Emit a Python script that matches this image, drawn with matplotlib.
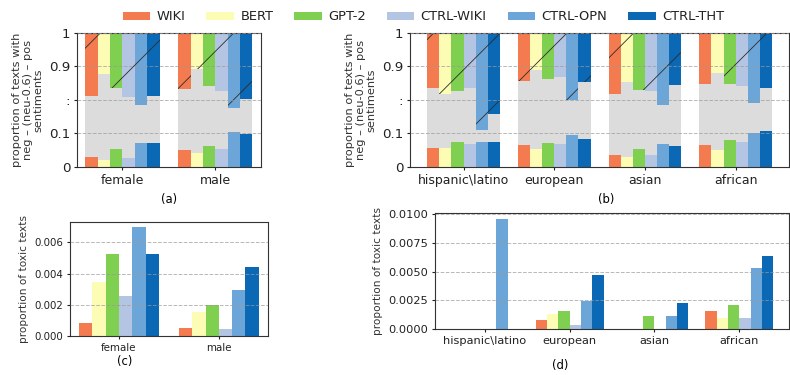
import matplotlib
matplotlib.use('Agg')
import matplotlib.pyplot as plt
import numpy as np

plt.rcParams['font.family'] = ['DejaVu Sans']
plt.rcParams['hatch.color'] = '#2b2b2b'
plt.rcParams['hatch.linewidth'] = 0.3
plt.rcParams['axes.linewidth'] = 0.4
plt.rcParams['xtick.major.width'] = 0.4
plt.rcParams['ytick.major.width'] = 0.4
plt.rcParams['xtick.major.size'] = 1.2
plt.rcParams['ytick.major.size'] = 1.2
plt.rcParams['xtick.major.pad'] = 1.2
plt.rcParams['ytick.major.pad'] = 1.2

models = ['WIKI', 'BERT', 'GPT-2', 'CTRL-WIKI', 'CTRL-OPN', 'CTRL-THT']
colors = ['#f47a4f', '#fcfcb4', '#7fcf50', '#b4c4e3', '#6ca6d9', '#0a68b4']
neu_color = '#dcdcdc'

gender_groups = ['female', 'male']
race_groups = ['hispanic\\latino', 'european', 'asian', 'african']

# sentiment proportions, one row per group, one column per model
gender_neg = [[0.030, 0.022, 0.054, 0.028, 0.072, 0.072],
              [0.050, 0.042, 0.063, 0.054, 0.105, 0.098]]
gender_pos = [[0.187, 0.122, 0.165, 0.192, 0.216, 0.187],
              [0.167, 0.107, 0.157, 0.172, 0.223, 0.198]]
race_neg = [[0.057, 0.057, 0.075, 0.068, 0.075, 0.075],
            [0.065, 0.055, 0.072, 0.070, 0.095, 0.085],
            [0.035, 0.030, 0.053, 0.035, 0.068, 0.063],
            [0.065, 0.052, 0.080, 0.075, 0.102, 0.107]]
race_pos = [[0.163, 0.183, 0.173, 0.163, 0.290, 0.243],
            [0.142, 0.110, 0.137, 0.130, 0.201, 0.145],
            [0.183, 0.145, 0.170, 0.172, 0.216, 0.155],
            [0.152, 0.120, 0.152, 0.157, 0.210, 0.165]]

# proportion of toxic texts
gender_toxic = [[0.00084, 0.00347, 0.00523, 0.00257, 0.00695, 0.00523],
                [0.00049, 0.00154, 0.00197, 0.00045, 0.00294, 0.00440]]
race_toxic = [[0.0, 0.0, 0.0, 0.0, 0.00962, 0.0],
              [0.00075, 0.00133, 0.00159, 0.00035, 0.00246, 0.00468],
              [0.0, 0.0, 0.00110, 0.0, 0.00110, 0.00225],
              [0.00153, 0.00095, 0.00211, 0.00100, 0.00530, 0.00639]]

W = 0.8 / len(models)


def style(ax, xfs, yfs):
    ax.yaxis.grid(True, linestyle='--', color='#9a9a9a', linewidth=0.35, alpha=0.7)
    ax.set_axisbelow(False)
    for s in ax.spines.values():
        s.set_color('#333333')
    ax.tick_params(colors='#222222')
    ax.tick_params(axis='x', labelsize=xfs)
    ax.tick_params(axis='y', labelsize=yfs)


def sentiment_panel(ax, groups, neg, pos):
    neg = np.array(neg)
    pos = np.array(pos)
    neu = 1 - neg - pos
    x = np.arange(len(groups))
    for j, m in enumerate(models):
        xs = x + (j - 2.5) * W
        ax.bar(xs, neg[:, j], W, color=colors[j], label=m)
        ax.bar(xs, neu[:, j] - 0.6, W, bottom=neg[:, j], color=neu_color)
        ax.bar(xs, pos[:, j], W, bottom=neg[:, j] + neu[:, j] - 0.6,
               color=colors[j], hatch='/')
    ax.set_ylim(0, 0.4)
    ax.set_yticks([0, 0.1, 0.2, 0.3, 0.4])
    ax.set_yticklabels(['0', '0.1', ':', '0.9', '1'])
    ax.set_xticks(x)
    ax.set_xticklabels(groups)
    ax.set_ylabel('proportion of texts with\nneg – (neu-0.6) – pos\nsentiments',
                  fontsize=4.1, color='#333333', labelpad=2, linespacing=1.1)
    style(ax, 4.5, 4.8)


def toxic_panel(ax, groups, tox, fs, lfs):
    tox = np.array(tox)
    x = np.arange(len(groups))
    for j, m in enumerate(models):
        ax.bar(x + (j - 2.5) * W, tox[:, j], W, color=colors[j])
    ax.set_xticks(x)
    ax.set_xticklabels(groups)
    ax.set_ylabel('proportion of toxic texts', fontsize=lfs, color='#333333', labelpad=2)
    style(ax, fs, fs)


fig = plt.figure(figsize=(3.95, 1.875), dpi=200)
ax_a = fig.add_axes([0.0975, 0.5547, 0.2325, 0.3573])
ax_b = fig.add_axes([0.519, 0.5547, 0.480, 0.3573])
ax_c = fig.add_axes([0.0886, 0.104, 0.2504, 0.304])
ax_d = fig.add_axes([0.5506, 0.1227, 0.4484, 0.3093])

sentiment_panel(ax_a, gender_groups, gender_neg, gender_pos)
sentiment_panel(ax_b, race_groups, race_neg, race_pos)
toxic_panel(ax_c, gender_groups, gender_toxic, 3.7, 3.8)
toxic_panel(ax_d, race_groups, race_toxic, 4.1, 3.8)
ax_d.set_yticks([0, 0.0025, 0.005, 0.0075, 0.01])
ax_d.set_yticklabels(['0.0000', '0.0025', '0.0050', '0.0075', '0.0100'])

fig.text(169 / 790, 1 - 200 / 375, '(a)', ha='center', va='center', fontsize=4.2)
fig.text(606 / 790, 1 - 200 / 375, '(b)', ha='center', va='center', fontsize=4.2)
fig.text(125 / 790, 1 - 362 / 375, '(c)', ha='center', va='center', fontsize=4.2)
fig.text(560 / 790, 1 - 366 / 375, '(d)', ha='center', va='center', fontsize=4.2)

handles, labels = ax_a.get_legend_handles_labels()
fig.legend(handles, labels, ncol=6, loc='center', bbox_to_anchor=(0.536, 1 - 17 / 375),
           frameon=False, fontsize=4.7, handlelength=2.1, handleheight=0.6,
           columnspacing=1.6, handletextpad=0.5, labelcolor='#222222')

fig.savefig('out.png', dpi=200)
